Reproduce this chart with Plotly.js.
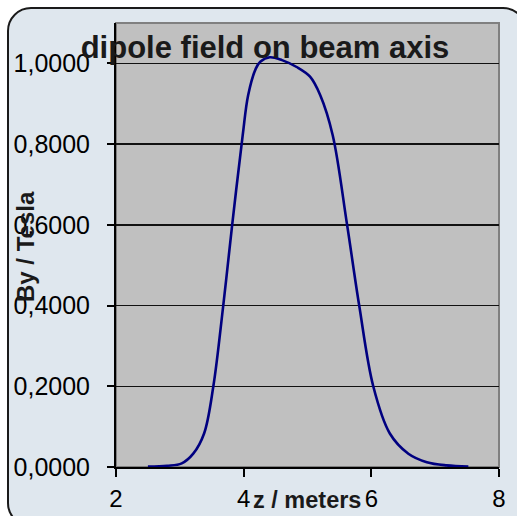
<!DOCTYPE html>
<html>
<head>
<meta charset="utf-8">
<script src="https://cdn.plot.ly/plotly-3.0.1.min.js"></script>
<style>
  html, body { margin: 0; padding: 0; background: #ffffff; }
  #wrap { position: relative; width: 517px; height: 516px; overflow: hidden; }
  #frame {
    position: absolute; left: 7px; top: 7px; width: 520px; height: 520px;
    box-sizing: border-box; border: 2px solid #1a1a1a; border-radius: 24px;
    background: #dfe7ee;
  }
  #chart { position: absolute; left: 0; top: 0; width: 517px; height: 516px; }
</style>
</head>
<body>
<div id="wrap">
  <div id="frame"></div>
  <div id="chart"></div>
</div>
<script>
// Longitudinal position along the beam axis (m)
const zMeters = [2.50, 2.80, 3.03, 3.21, 3.38, 3.525, 3.68, 3.82, 3.985, 4.07, 4.19,
                 4.26, 4.41, 4.60, 4.83, 5.04, 5.20, 5.395, 5.62, 5.81, 6.03, 6.29,
                 6.58, 6.87, 7.18, 7.52];
// Vertical dipole field By (T)
const byTesla = [0.001, 0.003, 0.009, 0.033, 0.083, 0.200, 0.400, 0.600, 0.822, 0.921, 0.987,
                 1.004, 1.015, 1.008, 0.991, 0.967, 0.921, 0.822, 0.600, 0.400, 0.200, 0.083,
                 0.033, 0.012, 0.004, 0.001];

const yTicks = [0, 0.2, 0.4, 0.6, 0.8, 1.0];
const xTicks = [2, 4, 6, 8];

const W = 517, H = 516;
const M = { l: 116, r: 18, t: 23, b: 49 };
const pw = W - M.l - M.r, ph = H - M.t - M.b;
const px = v => (v - M.l) / pw;      // page x -> paper x
const py = v => (H - M.b - v) / ph;  // page y -> paper y

const font = 'Arial, "Liberation Sans", sans-serif';

const trace = {
  x: zMeters, y: byTesla, type: 'scatter', mode: 'lines',
  line: { color: '#000080', width: 2.6, shape: 'spline', smoothing: 1 },
  hoverinfo: 'skip'
};

const layout = {
  width: W, height: H,
  margin: M,
  paper_bgcolor: 'rgba(0,0,0,0)',
  plot_bgcolor: '#c0c0c0',
  separators: ',.',
  showlegend: false,
  title: {
    text: '<b>dipole field on beam axis</b>',
    font: { family: font, size: 31, color: '#1a1a1a' },
    xref: 'container', yref: 'container',
    x: 265 / W, xanchor: 'center',
    y: 1 - 47 / H, yanchor: 'middle'
  },
  xaxis: {
    range: [2, 8], tickvals: xTicks, ticktext: xTicks.map(String),
    showgrid: false, zeroline: false,
    showline: true, linecolor: '#000000', linewidth: 2,
    ticks: 'outside', ticklen: 8, tickwidth: 2, tickcolor: '#000000',
    tickfont: { family: font, size: 24, color: '#000000' },
    ticklabelstandoff: 1,
    automargin: false
  },
  yaxis: {
    range: [0, 1.1], tickvals: yTicks, tickformat: '.4f',
    showgrid: true, gridcolor: '#111111', gridwidth: 1.5,
    zeroline: false,
    showline: true, linecolor: '#000000', linewidth: 2,
    ticks: 'outside', ticklen: 7, tickwidth: 2, tickcolor: '#000000',
    tickfont: { family: font, size: 25, color: '#000000' },
    ticklabelstandoff: 12,
    automargin: false
  },
  shapes: [{
    type: 'rect', xref: 'paper', yref: 'paper', x0: 0, x1: 1, y0: 0, y1: 1,
    line: { color: '#808080', width: 2 }, layer: 'below'
  }],
  annotations: [
    {
      text: '<b>z / meters</b>', xref: 'paper', yref: 'paper',
      x: px(307), y: py(500), xanchor: 'center', yanchor: 'middle',
      showarrow: false, font: { family: font, size: 23.5, color: '#1a1a1a' }
    },
    {
      text: '<b>By / Tesla</b>', xref: 'paper', yref: 'paper',
      x: px(26), y: py(247), xanchor: 'center', yanchor: 'middle',
      textangle: -90, showarrow: false,
      font: { family: font, size: 24, color: '#1a1a1a' }
    }
  ]
};

Plotly.newPlot('chart', [trace], layout, { displayModeBar: false, staticPlot: true });
</script>
</body>
</html>
